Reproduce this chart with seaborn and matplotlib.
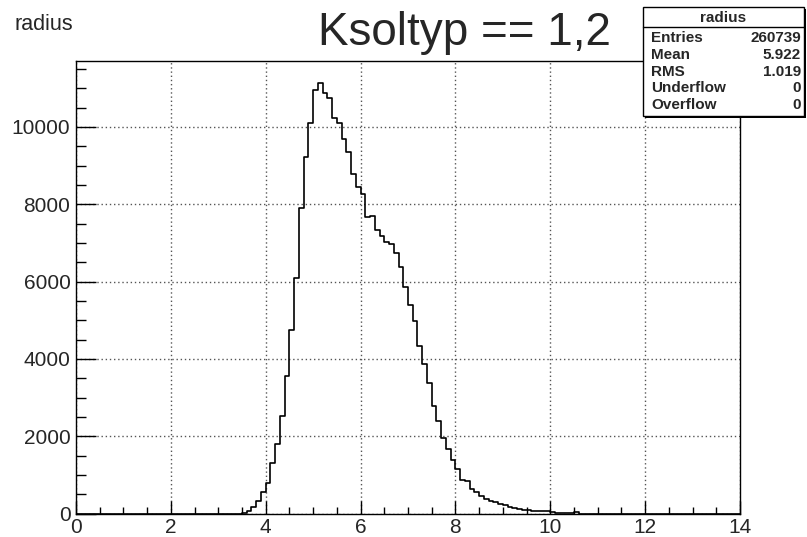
import numpy as np
import pandas as pd
import matplotlib
matplotlib.use("Agg")
import matplotlib.pyplot as plt
from matplotlib.ticker import MultipleLocator
from matplotlib.patches import Rectangle
from matplotlib.lines import Line2D
import seaborn as sns

# Histogram of radius, 0.1-wide bins from 0 to 14; non-empty bins start at 3.5
hist_name = "radius"
title_text = "Ksoltyp == 1,2"
x_min, x_max = 0.0, 14.0
n_bins = 140
first_bin_low = 3.5
counts = [
    17, 69, 172, 328, 552, 793, 1294, 1794, 2510, 3553,            # 3.5 - 4.4
    4743, 6084, 7895, 9214, 10111, 10956, 11146, 10870, 10740, 10240,  # 4.5 - 5.4
    10094, 9680, 9352, 8783, 8438, 8265, 7679, 7705, 7334, 7179,   # 5.5 - 6.4
    7033, 6963, 6748, 6368, 5868, 5403, 4971, 4333, 3859, 3385,    # 6.5 - 7.4
    2790, 2402, 1962, 1677, 1384, 1151, 867, 841, 625, 556,        # 7.5 - 8.4
    461, 375, 323, 290, 254, 211, 160, 134, 116, 103,              # 8.5 - 9.4
    86, 60, 60, 60, 55, 26, 17, 15, 2, 8,                          # 9.5 - 10.4
    26,                                                            # 10.5
]
stat_labels = ["Entries", "Mean", "RMS", "Underflow", "Overflow"]
stat_values = ["260739", "5.922", "1.019", "0", "0"]

bin_width = (x_max - x_min) / n_bins
centers = np.round(first_bin_low + bin_width * (np.arange(len(counts)) + 0.5), 4)
df = pd.DataFrame({"radius": centers, "count": counts})

W, H = 807, 537
sns.set_style("white")
plt.rcParams["font.family"] = ["Liberation Sans", "DejaVu Sans"]

fig = plt.figure(figsize=(W / 100, H / 100), dpi=100)


def fx(px):
    return px / W


def fy(py):
    return 1 - py / H


left, right, top, bottom = 76, 740, 61, 513.5
ax = fig.add_axes([fx(left), fy(bottom), fx(right) - fx(left), fy(top) - fy(bottom)])

sns.histplot(data=df, x="radius", weights="count", bins=n_bins,
             binrange=(x_min, x_max), element="step", fill=False,
             color="black", linewidth=1.2, ax=ax)

ax.set_xlim(x_min, x_max)
ax.set_ylim(0, max(counts) * 1.05)
ax.set_xlabel("")
ax.set_ylabel("")

ax.xaxis.set_major_locator(MultipleLocator(2))
ax.xaxis.set_minor_locator(MultipleLocator(0.5))
ax.yaxis.set_major_locator(MultipleLocator(2000))
ax.yaxis.set_minor_locator(MultipleLocator(500))

ax.grid(True, which="major", color="#555555", linestyle=(0, (1, 2)), linewidth=1)
ax.set_axisbelow(True)

for s in ax.spines.values():
    s.set_visible(True)
    s.set_color("black")
    s.set_linewidth(1)

ax.tick_params(axis="x", which="major", direction="in", length=9.7, width=1,
               color="black", labelsize=15, pad=3, bottom=True, top=False)
ax.tick_params(axis="x", which="minor", direction="in", length=4.9, width=1,
               color="black", bottom=True, top=False)
ax.tick_params(axis="y", which="major", direction="in", length=14.4, width=1,
               color="black", labelsize=15, pad=4, left=True, right=False)
ax.tick_params(axis="y", which="minor", direction="in", length=7.2, width=1,
               color="black", left=True, right=False)

# Histogram name, top-left
fig.text(fx(14), fy(30), hist_name, fontsize=15.5, ha="left", va="baseline")

# Title
fig.text(fx(464), fy(45), title_text, fontsize=33, ha="center", va="baseline")

# Statistics box
bx0, bx1, by0, by1 = 643, 804, 7, 116
shadow = Rectangle((fx(bx0 + 2), fy(by1 + 2)), fx(bx1) - fx(bx0), fy(by0) - fy(by1),
                   transform=fig.transFigure, facecolor="black", edgecolor="black",
                   linewidth=0, zorder=10)
box = Rectangle((fx(bx0), fy(by1)), fx(bx1) - fx(bx0), fy(by0) - fy(by1),
                transform=fig.transFigure, facecolor="white", edgecolor="black",
                linewidth=1, zorder=11)
fig.add_artist(shadow)
fig.add_artist(box)
fig.add_artist(Line2D([fx(bx0), fx(bx1)], [fy(27), fy(27)], transform=fig.transFigure,
                      color="black", linewidth=1, zorder=12))
fig.text(fx((bx0 + bx1) / 2), fy(17.5), hist_name, fontsize=11, fontweight="bold",
         ha="center", va="center", zorder=13)
row_y = [38, 55, 72, 88.5, 105]
for lab, val, ry in zip(stat_labels, stat_values, row_y):
    fig.text(fx(651), fy(ry), lab, fontsize=11, fontweight="bold",
             ha="left", va="center", zorder=13)
    fig.text(fx(801), fy(ry), val, fontsize=11, fontweight="bold",
             ha="right", va="center", zorder=13)

fig.savefig("out.png", dpi=100)
